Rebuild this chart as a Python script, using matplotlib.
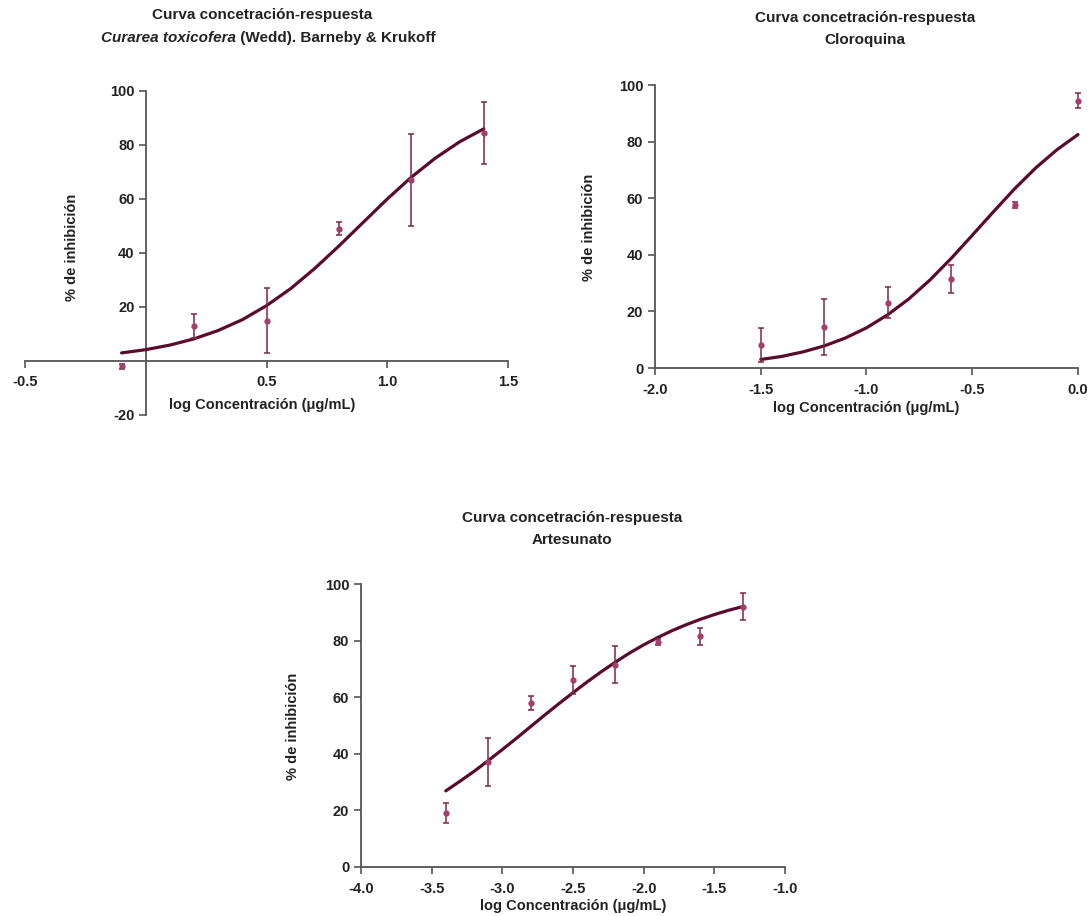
import matplotlib
matplotlib.use("Agg")
import matplotlib.pyplot as plt

plt.rcParams['font.family'] = ['Liberation Sans', 'DejaVu Sans']
plt.rcParams['font.weight'] = 'bold'
plt.rcParams['axes.unicode_minus'] = False

# ---------------- data ----------------
# Curarea toxicofera
cur_x = [-0.1, 0.2, 0.5, 0.8, 1.1, 1.4]
cur_y = [-2.0, 13.0, 15.0, 49.0, 67.0, 84.5]
cur_err = [1.0, 4.5, 12.0, 2.5, 17.0, 11.5]
cur_fit_x = [-0.1, 0.0, 0.1, 0.2, 0.3, 0.4, 0.5, 0.6, 0.7, 0.8, 0.9, 1.0, 1.1, 1.2, 1.3, 1.4]
cur_fit_y = [3.0, 4.2, 5.9, 8.2, 11.3, 15.3, 20.5, 26.8, 34.3, 42.6, 51.3, 60.0, 68.1, 75.2, 81.2, 86.0]

# Cloroquina
clo_x = [-1.5, -1.2, -0.9, -0.6, -0.3, 0.0]
clo_y = [8.0, 14.5, 23.0, 31.5, 57.5, 94.5]
clo_err = [6.0, 10.0, 5.5, 5.0, 1.0, 2.5]
clo_fit_x = [-1.5, -1.4, -1.3, -1.2, -1.1, -1.0, -0.9, -0.8, -0.7, -0.6, -0.5, -0.4, -0.3, -0.2, -0.1, 0.0]
clo_fit_y = [3.0, 4.1, 5.7, 7.8, 10.6, 14.2, 18.8, 24.4, 31.1, 38.7, 46.9, 55.2, 63.3, 70.7, 77.1, 82.5]

# Artesunato
art_x = [-3.4, -3.1, -2.8, -2.5, -2.2, -1.9, -1.6, -1.3]
art_y = [19.0, 37.0, 58.0, 66.0, 71.5, 79.5, 81.5, 92.0]
art_err = [3.5, 8.5, 2.5, 5.0, 6.5, 1.0, 3.0, 4.8]
art_fit_x = [-3.4, -3.3, -3.2, -3.1, -3.0, -2.9, -2.8, -2.7, -2.6, -2.5, -2.4,
             -2.3, -2.2, -2.1, -2.0, -1.9, -1.8, -1.7, -1.6, -1.5, -1.4, -1.3]
art_fit_y = [26.9, 30.3, 33.8, 37.6, 41.5, 45.5, 49.6, 53.7, 57.7, 61.6, 65.4,
             69.0, 72.4, 75.6, 78.5, 81.1, 83.5, 85.6, 87.5, 89.2, 90.7, 92.0]

title_main = "Curva concetración-respuesta"
x_label = "log Concentración (μg/mL)"
y_label = "% de inhibición"

# ---------------- style ----------------
CURVE = '#5a0b2d'
POINT = '#a23f6a'
ERR = '#7e2649'
SPINE = '#555555'
TEXT = '#222222'
W, H = 1090, 916
TICK_FS = 10.5
LAB_FS = 10.5
TS = 11

fig = plt.figure(figsize=(W / 100, H / 100), dpi=100)


def axes_px(x0, x1, ytop, ybot):
    return fig.add_axes([x0 / W, 1 - ybot / H, (x1 - x0) / W, (ybot - ytop) / H])


def style(ax):
    for s in ['top', 'right']:
        ax.spines[s].set_visible(False)
    for s in ['left', 'bottom']:
        ax.spines[s].set_color(SPINE)
        ax.spines[s].set_linewidth(1.3)
    ax.tick_params(axis='both', colors=SPINE, length=5, width=1.2,
                   labelsize=TICK_FS, labelcolor=TEXT)
    ax.patch.set_alpha(0)


def bold_ticks(ax):
    for lab in ax.get_xticklabels() + ax.get_yticklabels():
        lab.set_fontweight('bold')


def draw(ax, x, y, err, fx, fy):
    ax.plot(fx, fy, color=CURVE, lw=2.3, clip_on=False, zorder=3,
            solid_capstyle='round')
    ax.errorbar(x, y, yerr=err, fmt='o', ms=3.5, color=POINT, ecolor=ERR,
                elinewidth=1.1, capsize=2.5, capthick=1.1, clip_on=False, zorder=4)


def ftext(xp, yp, s, **kw):
    return fig.text(xp / W, 1 - yp / H, s, ha='center', va='center',
                    fontweight='bold', color=TEXT, **kw)


# ---- plot 1 ----
ax1 = axes_px(25, 508, 91, 415)
ax1.set_xlim(-0.5, 1.5)
ax1.set_ylim(-20, 100)
style(ax1)
ax1.spines['left'].set_position(('data', 0))
ax1.spines['bottom'].set_position(('data', 0))
ax1.set_xticks([-0.5, 0.5, 1.0, 1.5])
ax1.set_xticklabels(['-0.5', '0.5', '1.0', '1.5'])
ax1.set_yticks([-20, 20, 40, 60, 80, 100])
ax1.tick_params(axis='x', pad=5)
ax1.tick_params(axis='y', pad=3)
bold_ticks(ax1)
draw(ax1, cur_x, cur_y, cur_err, cur_fit_x, cur_fit_y)
ftext(262, 405, x_label, fontsize=LAB_FS)
ftext(72, 247, y_label, rotation=90, fontsize=LAB_FS)

# ---- plot 2 ----
ax2 = axes_px(655, 1078, 85, 368)
ax2.set_xlim(-2.0, 0.0)
ax2.set_ylim(0, 100)
style(ax2)
ax2.set_xticks([-2.0, -1.5, -1.0, -0.5, 0.0])
ax2.set_xticklabels(['-2.0', '-1.5', '-1.0', '-0.5', '0.0'])
ax2.set_yticks([0, 20, 40, 60, 80, 100])
ax2.tick_params(axis='x', pad=6)
bold_ticks(ax2)
draw(ax2, clo_x, clo_y, clo_err, clo_fit_x, clo_fit_y)
ftext(866, 408, x_label, fontsize=LAB_FS)
ftext(589, 227, y_label, rotation=90, fontsize=LAB_FS)

# ---- plot 3 ----
ax3 = axes_px(361, 785, 584, 867)
ax3.set_xlim(-4.0, -1.0)
ax3.set_ylim(0, 100)
style(ax3)
ax3.set_xticks([-4.0, -3.5, -3.0, -2.5, -2.0, -1.5, -1.0])
ax3.set_xticklabels(['-4.0', '-3.5', '-3.0', '-2.5', '-2.0', '-1.5', '-1.0'])
ax3.set_yticks([0, 20, 40, 60, 80, 100])
ax3.tick_params(axis='x', pad=6)
bold_ticks(ax3)
draw(ax3, art_x, art_y, art_err, art_fit_x, art_fit_y)
ftext(573, 906, x_label, fontsize=LAB_FS)
ftext(293, 726, y_label, rotation=90, fontsize=LAB_FS)

# ---- titles ----
ftext(262, 15, title_main, fontsize=TS)
ftext(865, 18, title_main, fontsize=TS)
ftext(865, 40, "Cloroquina", fontsize=TS)
ftext(572, 518, title_main, fontsize=TS)
ftext(572, 540, "Artesunato", fontsize=TS)

# mixed italic / normal second title line for plot 1
renderer = fig.canvas.get_renderer()
part1 = fig.text(0, 1 - 38 / H, "Curarea toxicofera", ha='left', va='center',
                 fontsize=TS, fontweight='bold', style='italic', color=TEXT)
part2 = fig.text(0, 1 - 38 / H, " (Wedd). Barneby & Krukoff", ha='left', va='center',
                 fontsize=TS, fontweight='bold', color=TEXT)
w1 = part1.get_window_extent(renderer).width
w2 = part2.get_window_extent(renderer).width
start = 268 - (w1 + w2) / 2
part1.set_x(start / W)
part2.set_x((start + w1) / W)

fig.savefig("out.png", dpi=100)
